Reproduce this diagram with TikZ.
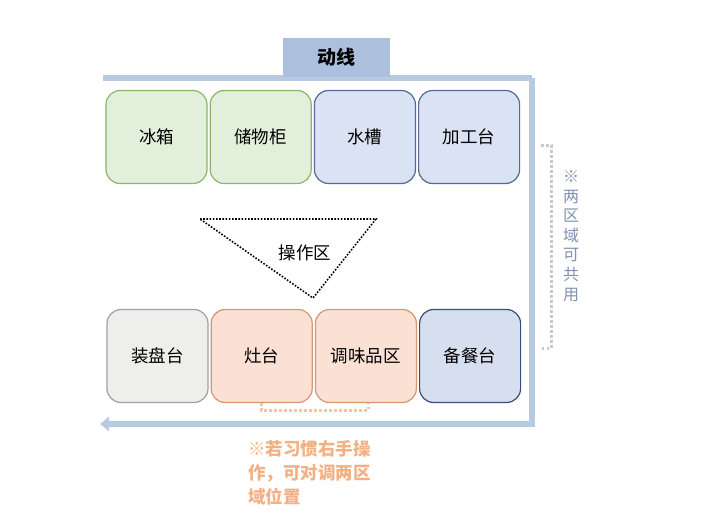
\documentclass[tikz,border=0pt]{standalone}
\usepackage{fontspec}
\newfontfamily\cjk{Noto Sans CJK SC}
\usepackage{xcolor}
\usetikzlibrary{arrows.meta, positioning}

\definecolor{flowblue}{RGB}{184,202,226}
\definecolor{titleblue}{RGB}{172,192,222}
\definecolor{coldfill}{RGB}{226,239,218}
\definecolor{coldline}{RGB}{138,182,108}
\definecolor{wetfill}{RGB}{218,227,243}
\definecolor{wetline}{RGB}{82,106,150}
\definecolor{plainfill}{RGB}{238,238,236}
\definecolor{plainline}{RGB}{160,160,160}
\definecolor{hotfill}{RGB}{251,225,211}
\definecolor{hotline}{RGB}{214,150,112}
\definecolor{servefill}{RGB}{214,223,240}
\definecolor{serveline}{RGB}{58,78,122}
\definecolor{sidetext}{RGB}{128,144,176}
\definecolor{notetext}{RGB}{243,176,130}
\definecolor{hintgray}{RGB}{196,202,210}

\begin{document}
\begin{tikzpicture}[
  x=1pt, y=-1pt,
  node distance=2pt,
  zone/.style={draw, rounded corners=14pt, line width=1.2pt, minimum width=101pt, minimum height=93pt, inner sep=0pt, font=\cjk\fontsize{17.5}{20}\selectfont},
  cold/.style={zone, draw=coldline, fill=coldfill},
  wet/.style={zone, draw=wetline, fill=wetfill},
  plain/.style={zone, draw=plainline, fill=plainfill},
  hot/.style={zone, draw=hotline, fill=hotfill},
  serve/.style={zone, draw=serveline, fill=servefill},
  flow/.style={flowblue, line width=6pt, line join=miter},
  hint/.style={line width=3pt, dash pattern=on 2.5pt off 2.5pt}
]
\useasboundingbox (0,0) rectangle (706,515);

% flow line round the kitchen
\coordinate (f1) at (103,78);
\coordinate (f2) at (532,78);
\coordinate (f3) at (532,424);
\coordinate (f4) at (100,424);
\draw[flow] (f1) -- (f2);
\draw[flow, -{Triangle[length=9pt,width=14pt]}] (f2) -- (f3) -- (f4);
\node[fill=titleblue, minimum width=107pt, minimum height=39pt, font=\cjk\bfseries\fontsize{19}{22}\selectfont] (title) at (336,57) {动线};

% top row
\node[cold] (fridge) at (156.5,137) {冰箱};
\node[cold, right=of fridge] (pantry) {储物柜};
\node[wet, right=of pantry] (sink) {水槽};
\node[wet, right=of sink] (prep) {加工台};

% bottom row
\node[plain] (plating) at (157.5,356) {装盘台};
\node[hot, right=of plating] (stove) {灶台};
\node[hot, right=of stove] (spice) {调味品区};
\node[serve, right=of spice] (serving) {备餐台};

% work triangle
\coordinate (ta) at (200,219);
\coordinate (tb) at (376,219);
\coordinate (tc) at (313,298);
\draw[line width=1.6pt, dash pattern=on 1.6pt off 1.6pt] (ta) -- (tb) -- (tc) -- cycle;
\node[font=\cjk\fontsize{17.5}{20}\selectfont] (work) at (305,253) {操作区};

% shared zone note
\coordinate (r1) at (541,145);
\coordinate (r2) at (551,145);
\coordinate (r3) at (551,348);
\coordinate (r4) at (541,348);
\draw[hint, hintgray] (r1) -- (r2) -- (r3) -- (r4);
\node[sidetext, align=center, inner sep=0pt, font=\cjk\fontsize{16}{19.6}\selectfont] (shared) at (571,236) {※\\两\\区\\域\\可\\共\\用};

% swap note
\coordinate (s1) at (261,403);
\coordinate (s2) at (261,410);
\coordinate (s3) at (368,410);
\coordinate (s4) at (368,403);
\draw[hint, notetext!75] (s1) -- (s2) -- (s3) -- (s4);
\node[notetext, align=left, anchor=north west, inner sep=0pt, font=\cjk\bfseries\fontsize{17.5}{24}\selectfont] (swap) at (248,440) {※若习惯右手操\\作，可对调两区\\域位置};
\end{tikzpicture}
\end{document}
